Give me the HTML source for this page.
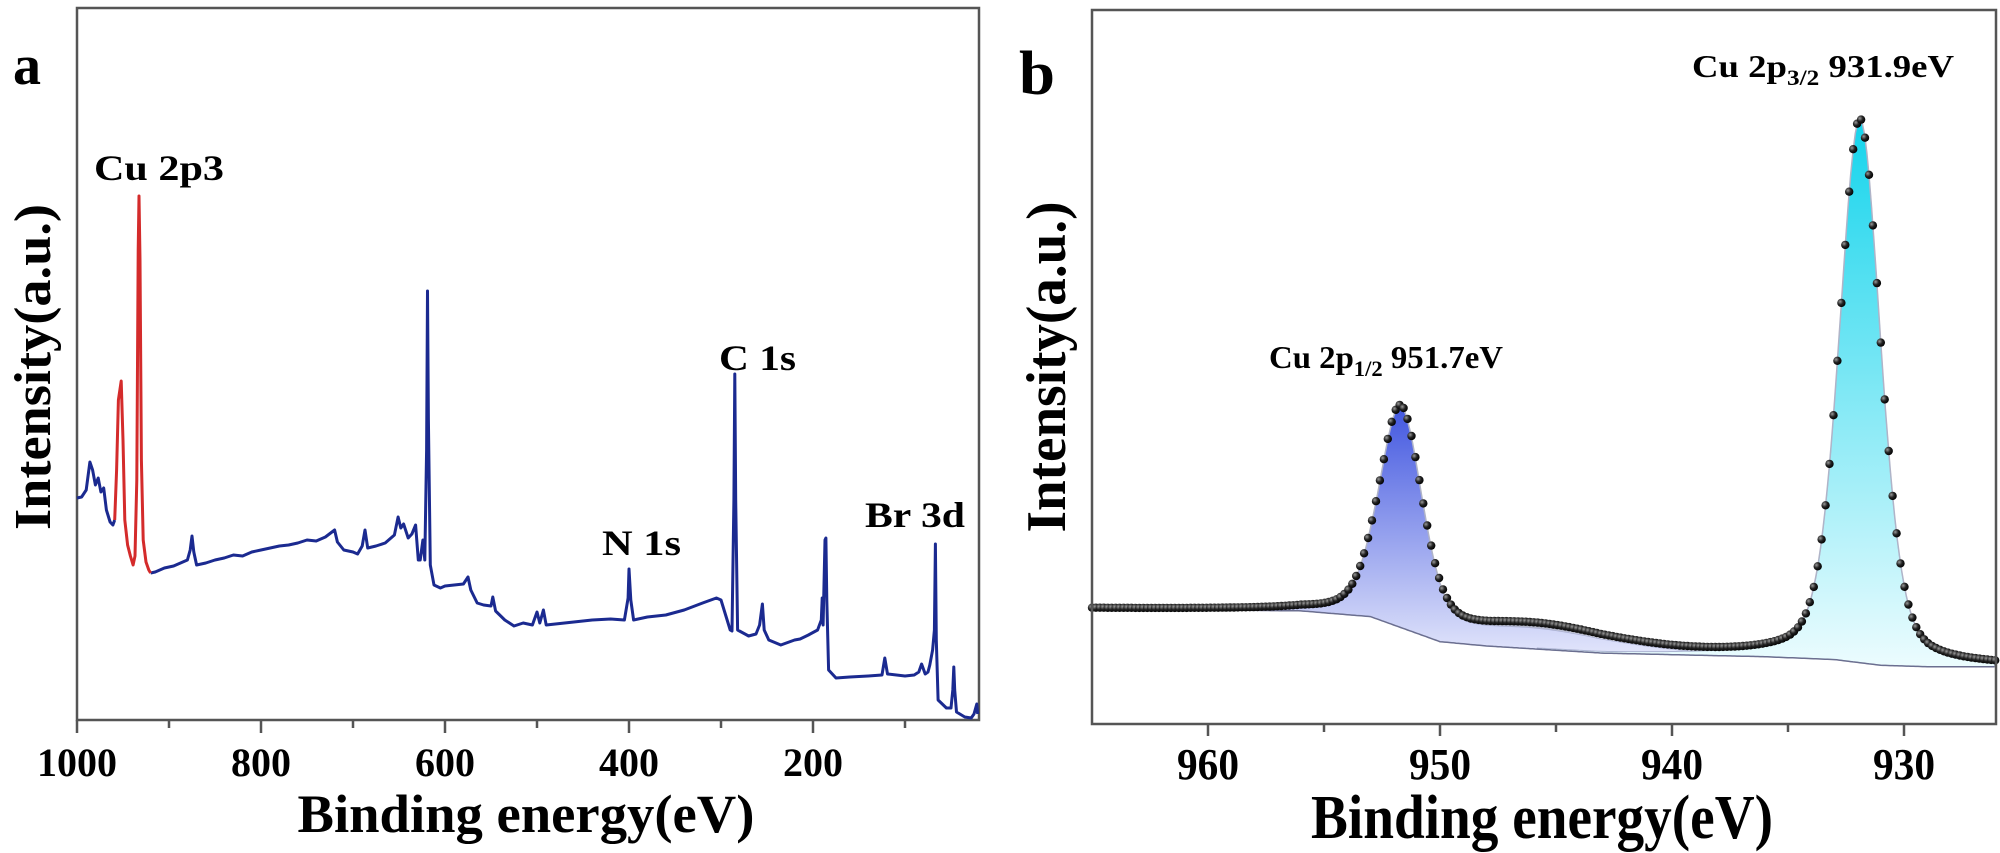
<!DOCTYPE html>
<html><head><meta charset="utf-8"><style>
html,body{margin:0;padding:0;background:#fff;}
svg{display:block;font-family:"Liberation Serif",serif;font-weight:bold;}
</style></head><body>
<svg id="chart" width="2000" height="853" viewBox="0 0 2000 853" xmlns="http://www.w3.org/2000/svg">
<defs>
<linearGradient id="g1" x1="0" y1="0" x2="0" y2="1"><stop offset="0" stop-color="#4257e0"/><stop offset="1" stop-color="#e4e7fb"/></linearGradient>
<linearGradient id="g2" x1="0" y1="0" x2="0" y2="1"><stop offset="0" stop-color="#14d4ec"/><stop offset="1" stop-color="#ecfcfe"/></linearGradient>
<radialGradient id="dotg" cx="0.35" cy="0.35" r="0.7"><stop offset="0" stop-color="#9a9a9a"/><stop offset="0.5" stop-color="#222"/><stop offset="1" stop-color="#000"/></radialGradient>
</defs>
<g id="panelA"></g>
<g id="panelB"></g>
</svg>
<script>
// ---------- Panel a: survey spectrum (intensity in arbitrary units, 0..712) ----------
const surveyBlue1E = [1000,995,990,986,983,980,977,974,971,968,964,961,959];
const surveyBlue1I = [222,223,230,258,250,235,242,228,232,210,198,195,200];
const surveyRedE = [959,957,955,952,950,948,945,942,939,937,935,933.5,932.6,931.5,930,928,925,922,920];
const surveyRedI = [200,250,320,339,280,200,175,164,155,164,240,470,524,460,260,180,158,150,147];
const surveyBlue2E = [920,915,905,895,885,880,877,875,873,870,860,850,840,830,820,810,800,790,780,770,760,750,740,730,720,717,710,700,695,690,687,684,675,665,655,651,648,645,640,636,632,629,627,624,622,620,619,618,616,612,605,600,590,580,575,572,565,558,550,548,545,535,525,515,505,500,497,493,490,480,460,440,420,405,401,400,398,395,380,360,340,320,305,300,295,290,288,286,285,284,282,270,262,258,255,253,248,235,220,214,205,195,191,190,189,187,186,185,183,175,160,140,125,122,119,100,90,85,82,78,75,73,70,68,67,66,64,55,50,48,47,46,44,35,28,25,22,21];
const surveyBlue2I = [147,148,152,154,158,160,170,184,168,155,157,160,162,165,164,168,170,172,174,175,177,180,179,183,190,178,170,168,166,174,190,172,174,177,185,203,192,196,182,186,195,160,160,180,160,270,429,300,155,135,132,134,135,136,143,130,117,115,114,123,109,100,94,97,95,108,97,110,95,96,98,100,101,100,122,151,120,100,103,105,110,117,122,120,105,90,89,220,346,220,90,84,86,95,116,90,80,75,80,81,85,90,100,122,95,180,182,120,50,42,43,44,45,62,46,44,45,48,56,46,48,55,70,90,176,80,20,12,12,30,53,30,8,3,2,6,16,6];
const surveyXTicks = [1000,800,600,400,200];
const surveyXMinor = [900,700,500,300,100];
const surveyLabels = [["Cu 2p3",94,180,130],["C 1s",719,370,77],["N 1s",602,555,79],["Br 3d",865,527,100]];

// ---------- Panel b: Cu 2p high-resolution (intensity 0..100) ----------
const bgE = [965,956,953,950,948,943,936,933,931,929,926];
const bgI = [16.1,15.8,15.0,11.5,10.9,9.9,9.4,9.0,8.2,8.0,8.0];
const peakCenter = [951.7,931.9,945.8];
const peakHeight = [30.2,75.9,3.2];
const peakFwhm = [2.2,2.1,8.0];
const peakColor = ["url(#g1)","url(#g2)",null];
const hrXTicks = [960,950,940,930];
const hrXMinor = [955,945,935];

const NS="http://www.w3.org/2000/svg";
function mk(tag,attrs,parent){const e=document.createElementNS(NS,tag);for(const k in attrs)e.setAttribute(k,attrs[k]);parent.appendChild(e);return e;}

// ===== Panel A =====
const A=document.getElementById('panelA');
const aL=77,aR=979,aT=8,aB=720;
const ax=e=>aL+(1000-e)*0.92;
const ay=v=>aB-v;
let fr=mk('rect',{x:aL,y:aT,width:aR-aL,height:aB-aT,fill:'none',stroke:'#555','stroke-width':2.5},A);


function lineFrom(E,I,color,name){
  let d=E.map((e,i)=>(i?'L':'M')+ax(e).toFixed(1)+' '+ay(I[i]).toFixed(1)).join(' ');
  const p=mk('path',{d:d,fill:'none',stroke:color,'stroke-width':3,'stroke-linejoin':'round'},A);
  
  
}
lineFrom(surveyBlue1E,surveyBlue1I,'#1b2a90','survey-line-high-energy');
lineFrom(surveyBlue2E,surveyBlue2I,'#1b2a90','survey-line');
lineFrom(surveyRedE,surveyRedI,'#d42b2b','cu-2p-peak-line');
surveyXTicks.forEach(t=>{
  const l=mk('line',{x1:ax(t),x2:ax(t),y1:aB,y2:aB+13,stroke:'#555','stroke-width':2.5},A);
  
  
  const tx=mk('text',{x:ax(t),y:776,'font-size':40,'text-anchor':'middle',fill:'#000'},A);
  tx.textContent=t;
  
  
});
surveyXMinor.forEach(t=>{
  const l=mk('line',{x1:ax(t),x2:ax(t),y1:aB,y2:aB+8,stroke:'#555','stroke-width':2.5},A);
  
  
});
surveyLabels.forEach(s=>{
  const tx=mk('text',{x:s[1],y:s[2],'font-size':36,fill:'#000',textLength:s[3],lengthAdjust:'spacingAndGlyphs'},A);
  tx.textContent=s[0];
  
  
});
let t1=mk('text',{x:13,y:84,'font-size':56,fill:'#000'},A);t1.textContent='a';


let t2=mk('text',{x:0,y:0,'font-size':52,fill:'#000','text-anchor':'middle',transform:'translate(50,367) rotate(-90)',textLength:326,lengthAdjust:'spacingAndGlyphs'},A);t2.textContent='Intensity(a.u.)';


let t3=mk('text',{x:526,y:832,'font-size':54,fill:'#000','text-anchor':'middle',textLength:457,lengthAdjust:'spacingAndGlyphs'},A);t3.textContent='Binding energy(eV)';



// ===== Panel B =====
const B=document.getElementById('panelB');
const bL=1092,bR=1996,bT=10,bB=724;
const bx=e=>bL+(965-e)*23.2;
const by=v=>bB-v*7.16;
function bg(e){
  if(e>=bgE[0])return bgI[0];
  for(let i=1;i<bgE.length;i++){if(e>=bgE[i]){const f=(bgE[i-1]-e)/(bgE[i-1]-bgE[i]);return bgI[i-1]+f*(bgI[i]-bgI[i-1]);}}
  return bgI[bgI.length-1];
}
function pv(e,k){const d=(e-peakCenter[k])/(peakFwhm[k]/2);const L=1/(1+d*d);const G=Math.exp(-Math.LN2*d*d);return peakHeight[k]*(0.35*L+0.65*G);}
const es=[];for(let e=965;e>=926.0;e-=0.1)es.push(+e.toFixed(2));
// component fills
[0,1].forEach(k=>{
  let top=[],bot=[];
  es.forEach(e=>{const p=pv(e,k)+(k===0?pv(e,2)*0.8:0);if(p>0.15){top.push([bx(e),by(bg(e)+p)]);bot.push([bx(e),by(bg(e))]);}});
  const d='M'+top.map(q=>q[0].toFixed(1)+' '+q[1].toFixed(1)).join(' L')+' L'+bot.reverse().map(q=>q[0].toFixed(1)+' '+q[1].toFixed(1)).join(' L')+'Z';
  const p=mk('path',{d:d,fill:peakColor[k],stroke:'#8890b8','stroke-width':1,'stroke-opacity':0.6},B);
  
  
});
// background line
let bgd=es.map((e,i)=>(i?'L':'M')+bx(e).toFixed(1)+' '+by(bg(e)).toFixed(1)).join(' ');
let bgp=mk('path',{d:bgd,fill:'none',stroke:'#6b6f90','stroke-width':1.5},B);


// envelope fit
let fd=es.map((e,i)=>(i?'L':'M')+bx(e).toFixed(1)+' '+by(bg(e)+pv(e,0)+pv(e,1)+pv(e,2)*0.8).toFixed(1)).join(' ');
let fp=mk('path',{d:fd,fill:'none',stroke:'#b0b4c8','stroke-width':1.5},B);


// data dots
const dotsG=mk('g',{},B);


for(let e=965;e>=926.0;e-=0.17){
  const v=bg(e)+pv(e,0)+pv(e,1)+pv(e,2);
  const c=mk('circle',{cx:bx(e).toFixed(1),cy:by(v).toFixed(1),r:4.2,fill:'url(#dotg)'},dotsG);
  
  
}
let fb=mk('rect',{x:bL,y:bT,width:bR-bL,height:bB-bT,fill:'none',stroke:'#555','stroke-width':2.5},B);


hrXTicks.forEach(t=>{
  const l=mk('line',{x1:bx(t),x2:bx(t),y1:bB,y2:bB+12,stroke:'#555','stroke-width':2.5},B);
  
  
  const tx=mk('text',{x:bx(t),y:779,'font-size':44,'text-anchor':'middle',fill:'#000',textLength:62,lengthAdjust:'spacingAndGlyphs'},B);
  tx.textContent=t;
  
  
});
hrXMinor.forEach(t=>{
  const l=mk('line',{x1:bx(t),x2:bx(t),y1:bB,y2:bB+8,stroke:'#555','stroke-width':2.5},B);
  
  
});
let b1=mk('text',{x:1019,y:94,'font-size':62,fill:'#000',textLength:36,lengthAdjust:'spacingAndGlyphs'},B);b1.textContent='b';


let b2=mk('text',{x:0,y:0,'font-size':56,fill:'#000','text-anchor':'middle',transform:'translate(1065,367) rotate(-90)',textLength:331,lengthAdjust:'spacingAndGlyphs'},B);b2.textContent='Intensity(a.u.)';


let b3=mk('text',{x:1542,y:838,'font-size':62,fill:'#000','text-anchor':'middle',textLength:462,lengthAdjust:'spacingAndGlyphs'},B);b3.textContent='Binding energy(eV)';


function peakLabel(x,y,len,sub,val,name){
  const t=mk('text',{x:x,y:y,'font-size':32,fill:'#000',textLength:len,lengthAdjust:'spacingAndGlyphs'},B);
  
  
  const a=mk('tspan',{},t);a.textContent='Cu 2p';
  const s=mk('tspan',{dy:8,'font-size':22},t);s.textContent=sub;
  const c=mk('tspan',{dy:-8},t);c.textContent=' '+val;
}
peakLabel(1269,368,234,'1/2','951.7eV','peak-label-2p1-2');
peakLabel(1692,77,262,'3/2','931.9eV','peak-label-2p3-2');
</script>
</body></html>
